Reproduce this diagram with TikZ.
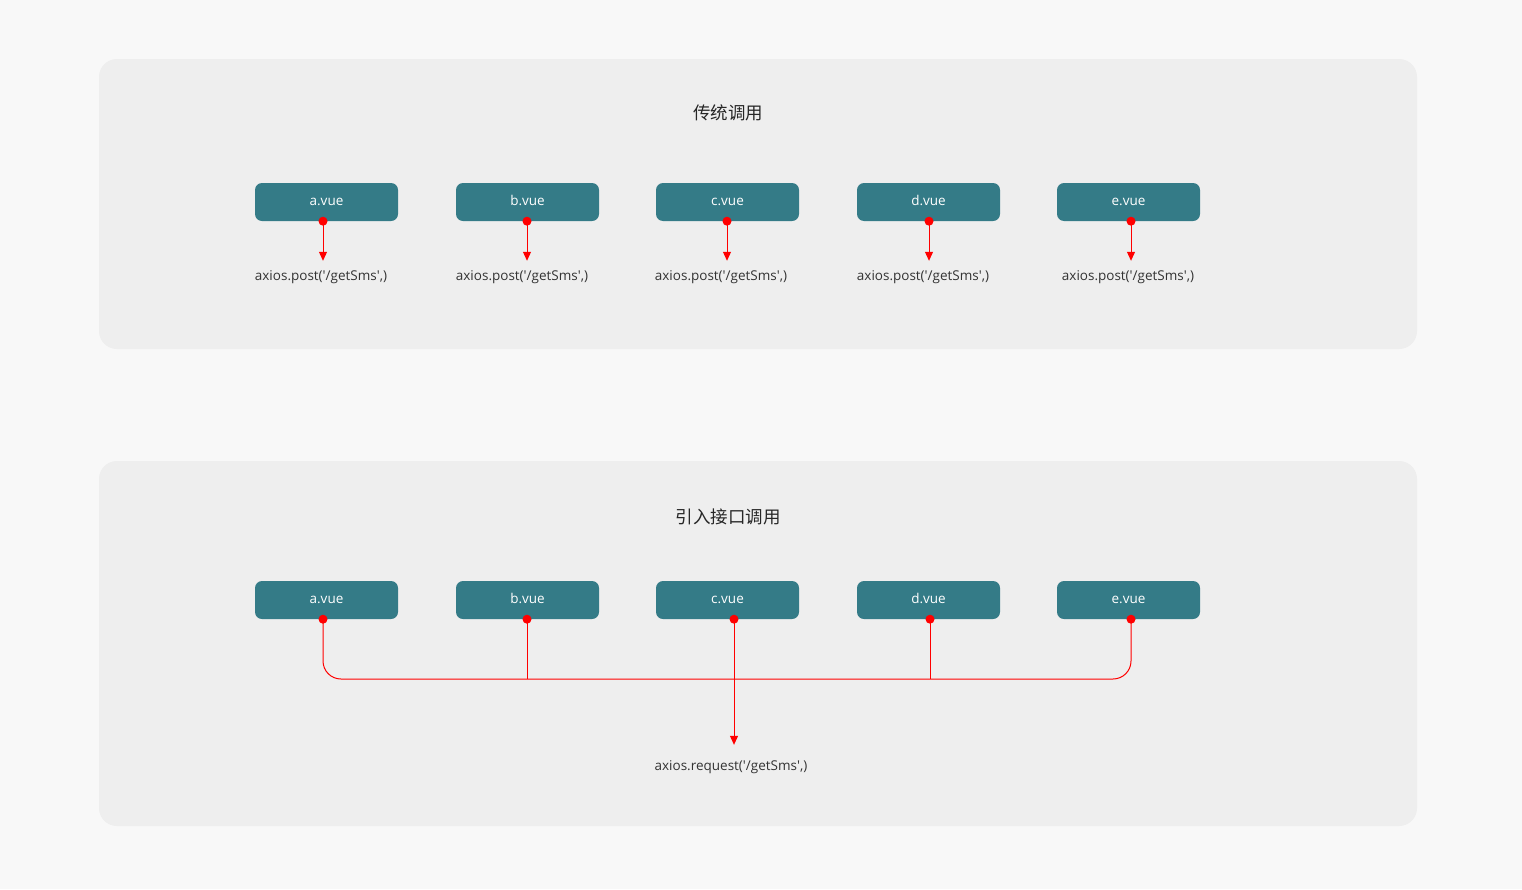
\documentclass[tikz,border=0pt]{standalone}
\usepackage{fontspec}
\setmainfont{Open Sans}[Ligatures=TeXOff]
\newfontfamily\cjk{Noto Sans CJK SC}
\usetikzlibrary{arrows.meta,positioning}
\definecolor{pagebg}{HTML}{F8F8F8}
\definecolor{panelbg}{HTML}{EEEEEE}
\definecolor{vueteal}{HTML}{347B87}
\definecolor{calltxt}{HTML}{333333}
\begin{document}
\begin{tikzpicture}[x=1pt,y=-1pt,
    vuebox/.style={fill=vueteal,rounded corners=7pt,minimum width=143pt,minimum height=38pt,inner sep=0pt,text height=9.5pt,text depth=2.5pt,text=white,font=\fontsize{13.5}{15}\selectfont},
    calltext/.style={inner sep=0pt,text height=10pt,text depth=3pt,text=calltxt,font=\fontsize{13.5}{15}\selectfont},
    paneltitle/.style={inner sep=0pt,text=black!85,font=\cjk\fontsize{17.5}{20}\selectfont},
    callline/.style={red,line width=1pt},
    callarrow/.style={callline,-{Triangle[length=9pt,width=8pt]}}]
	% background and panels
	\fill[pagebg] (0,0) rectangle (1522,889);
	\fill[panelbg,rounded corners=18pt] (99,59) rectangle (1417,349);
	\fill[panelbg,rounded corners=18pt] (99,461) rectangle (1417,826);
	% traditional calls
	\node[paneltitle] (title1) at (728,113) {传统调用};
	\foreach \n/\x/\dx/\tx in {a/326.5/-3.5/321,b/527.5/-0.5/522,c/727.5/-0.5/721,d/928.5/0.5/923,e/1128.5/2.5/1128} {
		\node[vuebox] (\n1) at (\x,202) {\n.vue};
		\node[calltext] (\n1call) at (\tx,277) {axios.post('/getSms',)};
		\coordinate (\n1dot) at ([xshift=\dx]\n1.south);
		\draw[callarrow,shorten >=9.5pt] (\n1dot) -- (\n1dot |- \n1call.north);
		\fill[red] (\n1dot) circle (4.5);
	}
	% calls through one interface
	\node[paneltitle] (title2) at (728,517) {引入接口调用};
	\foreach \n/\x/\dx in {a/326.5/-3.5,b/527.5/-0.5,c/727.5/6.5,d/928.5/1.5,e/1128.5/2.5} {
		\node[vuebox] (\n2) at (\x,600) {\n.vue};
		\coordinate (\n2dot) at ([xshift=\dx]\n2.south);
	}
	\coordinate (bus) at (0,679);
	\node[calltext] (request) at (731,767) {axios.request('/getSms',)};
	\draw[callline,rounded corners=18pt] (a2dot) |- (bus -| e2dot) -- (e2dot);
	\draw[callline] (b2dot) -- (b2dot |- bus);
	\draw[callline] (d2dot) -- (d2dot |- bus);
	\draw[callarrow,shorten >=15.5pt] (c2dot) -- (c2dot |- request.north);
	\foreach \n in {a,b,c,d,e} \fill[red] (\n2dot) circle (4.5);
\end{tikzpicture}
\end{document}
